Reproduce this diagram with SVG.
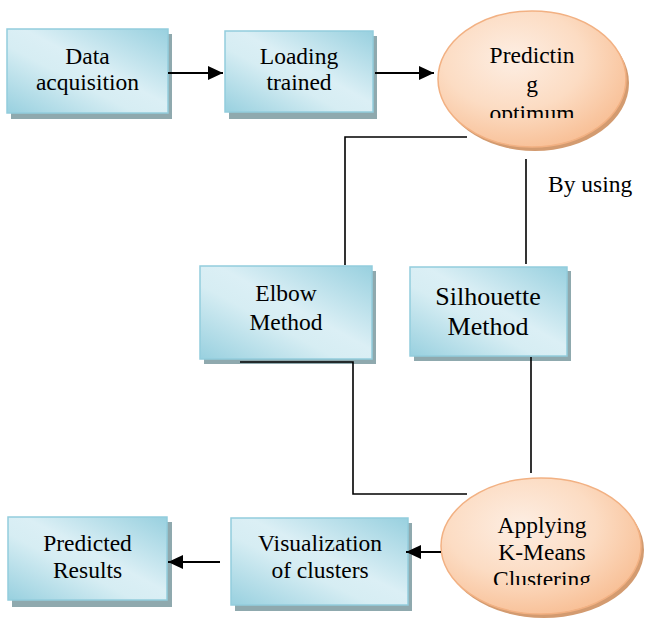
<svg xmlns="http://www.w3.org/2000/svg" width="646" height="622" viewBox="0 0 646 622">
<style>
.box{fill:url(#bg);stroke:#93cddd;stroke-width:1.5}
.sh{fill:#8fa9ae}
.ell{fill:url(#eg);stroke:#f2b183;stroke-width:1.5}
.esh{fill:#d39b70}
.t{font-family:'Liberation Serif','Times New Roman',serif;font-size:23.5px;fill:#000;text-anchor:middle}
.ln{fill:none;stroke:#000;stroke-width:1.6}
.ar{fill:none;stroke:#000;stroke-width:2}
</style>
<defs>
<linearGradient id="bg" x1="1" y1="0" x2="0" y2="1">
<stop offset="0" stop-color="#98d0df"/>
<stop offset="0.45" stop-color="#dbeff5"/>
<stop offset="0.6" stop-color="#d6edf3"/>
<stop offset="1" stop-color="#98d0df"/>
</linearGradient>
<radialGradient id="eg" cx="0.4" cy="0.35" r="0.75">
<stop offset="0" stop-color="#fdeee3"/>
<stop offset="0.5" stop-color="#fcdcc3"/>
<stop offset="1" stop-color="#f7b98c"/>
</radialGradient>
<marker id="ah" viewBox="0 0 15 14" refX="15" refY="7" markerWidth="15" markerHeight="14" markerUnits="userSpaceOnUse" orient="auto">
<path d="M0,0 L15,7 L0,14 Z" fill="#000"/>
</marker>
<clipPath id="c1"><rect x="430" y="0" width="210" height="118"/></clipPath>
<clipPath id="c2"><rect x="430" y="470" width="216" height="115"/></clipPath>
</defs>

<g id="data-acquisition">
<rect class="sh" x="11" y="34" width="161" height="85"/>
<rect class="box" x="7" y="29" width="161" height="84"/>
<text class="t" x="87.5" y="64">Data</text>
<text class="t" x="87.5" y="90">acquisition</text>
</g>

<g id="loading-trained">
<rect class="sh" x="229" y="36" width="148" height="83"/>
<rect class="box" x="225" y="31" width="148" height="81"/>
<text class="t" x="299" y="64">Loading</text>
<text class="t" x="299" y="90">trained</text>
</g>

<g id="predicting-optimum">
<ellipse class="esh" cx="535" cy="83" rx="94" ry="68"/>
<ellipse class="ell" cx="532" cy="79" rx="94" ry="68"/>
<g clip-path="url(#c1)">
<text class="t" x="532" y="63">Predictin</text>
<text class="t" x="532" y="92">g</text>
<text class="t" x="532" y="121">optimum</text>
</g>
</g>

<g id="elbow-method">
<rect class="sh" x="204" y="271" width="172" height="93"/>
<rect class="box" x="200" y="266" width="172" height="93"/>
<text class="t" x="286" y="301">Elbow</text>
<text class="t" x="286" y="330">Method</text>
</g>

<g id="silhouette-method">
<rect class="sh" x="414" y="271" width="157" height="90"/>
<rect class="box" x="410" y="267" width="157" height="89"/>
<text class="t" x="488" y="305" style="font-size:26px">Silhouette</text>
<text class="t" x="488" y="335" style="font-size:26px">Method</text>
</g>

<g id="applying-kmeans">
<ellipse class="esh" cx="544" cy="550" rx="100" ry="68"/>
<ellipse class="ell" cx="541" cy="546" rx="100" ry="68"/>
<g clip-path="url(#c2)">
<text class="t" x="542" y="533">Applying</text>
<text class="t" x="542" y="560">K-Means</text>
<text class="t" x="542" y="587">Clustering</text>
</g>
</g>

<g id="visualization">
<rect class="sh" x="235" y="523" width="177" height="88"/>
<rect class="box" x="231" y="518" width="177" height="87"/>
<text class="t" x="320" y="551">Visualization</text>
<text class="t" x="320" y="578">of clusters</text>
</g>

<g id="predicted-results">
<rect class="sh" x="12" y="522" width="160" height="85"/>
<rect class="box" x="8" y="517" width="159" height="83"/>
<text class="t" x="87.5" y="551">Predicted</text>
<text class="t" x="87.5" y="578">Results</text>
</g>

<g id="connectors">
<line class="ar" x1="168" y1="73" x2="223" y2="73" marker-end="url(#ah)"/>
<line class="ar" x1="375" y1="73" x2="434" y2="73" marker-end="url(#ah)"/>
<line class="ar" x1="441" y1="552" x2="406" y2="552" marker-end="url(#ah)"/>
<line class="ar" x1="220" y1="562" x2="168" y2="562" marker-end="url(#ah)"/>
<path class="ln" d="M467,137 H345 V265"/>
<path class="ln" d="M526,159 V264"/>
<path class="ln" d="M240,362 H353 V494 H467"/>
<path class="ln" d="M531,357 V473"/>
<text class="t" x="548" y="192" style="text-anchor:start">By using</text>
</g>
</svg>
